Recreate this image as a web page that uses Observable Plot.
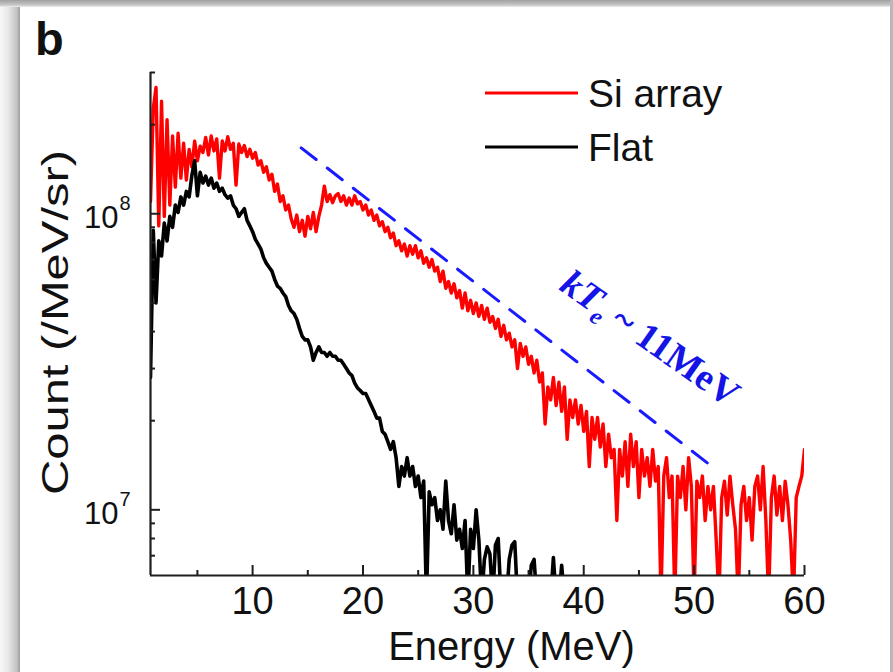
<!DOCTYPE html>
<html>
<head>
<meta charset="utf-8">
<script src="https://cdn.jsdelivr.net/npm/d3@7"></script>
<script src="https://cdn.jsdelivr.net/npm/@observablehq/plot@0.6"></script>
<style>
  body { margin: 0; background: #fff; }
  #wrap { position: relative; width: 893px; height: 672px; overflow: hidden; background: #fff; }
  #chart svg { display: block; }
  .shade { position: absolute; pointer-events: none; }
  #overlay { position: absolute; left: 0; top: 0; pointer-events: none; }
</style>
</head>
<body>
<div id="wrap">
  <div id="chart"></div>
  <svg id="overlay" width="893" height="672"></svg>
  <div class="shade" style="left:0;top:0;width:20px;height:672px;background:linear-gradient(to right,#f8f8f8,#e8e8e8 40%,#c2c2c2 85%,#9c9c9c);"></div>
  <div class="shade" style="left:0;top:0;width:893px;height:7px;background:linear-gradient(to bottom,#a0a0a0,#c6c6c6 70%,#ececec);"></div>
  <div class="shade" style="right:0;top:0;width:3px;height:672px;background:#b8b8b8;"></div>
</div>
<script>
// ---------------- data ----------------
const panelTag = "b";
const seriesNames = ["Si array", "Flat"];
const seriesColors = ["#ff0000", "#000000"];

// energy bins (MeV)
const energy = [
  0.75,
  1, 1.25, 1.5, 1.75,
  2, 2.25, 2.5, 2.75,
  3, 3.25, 3.5, 3.75,
  4, 4.25, 4.5, 4.75,
  5, 5.25, 5.5, 5.75,
  6, 6.25, 6.5, 6.75,
  7, 7.25, 7.5, 7.75,
  8, 8.25, 8.5, 8.75,
  9, 9.25, 9.5, 9.75,
  10, 10.25, 10.5, 10.75,
  11, 11.25, 11.5, 11.75,
  12, 12.25, 12.5, 12.75,
  13, 13.25, 13.5, 13.75,
  14, 14.25, 14.5, 14.75,
  15, 15.25, 15.5, 15.75,
  16, 16.25, 16.5, 16.75,
  17, 17.25, 17.5, 17.75,
  18, 18.25, 18.5, 18.75,
  19, 19.25, 19.5, 19.75,
  20, 20.25, 20.5, 20.75,
  21, 21.25, 21.5, 21.75,
  22, 22.25, 22.5, 22.75,
  23, 23.25, 23.5, 23.75,
  24, 24.25, 24.5, 24.75,
  25, 25.25, 25.5, 25.75,
  26, 26.25, 26.5, 26.75,
  27, 27.25, 27.5, 27.75,
  28, 28.25, 28.5, 28.75,
  29, 29.25, 29.5, 29.75,
  30, 30.25, 30.5, 30.75,
  31, 31.25, 31.5, 31.75,
  32, 32.25, 32.5, 32.75,
  33, 33.25, 33.5, 33.75,
  34, 34.25, 34.5, 34.75,
  35, 35.25, 35.5, 35.75,
  36, 36.25, 36.5, 36.75,
  37, 37.25, 37.5, 37.75,
  38, 38.25, 38.5, 38.75,
  39, 39.25, 39.5, 39.75,
  40, 40.25, 40.5, 40.75,
  41, 41.25, 41.5, 41.75,
  42, 42.25, 42.5, 42.75,
  43, 43.25, 43.5, 43.75,
  44, 44.25, 44.5, 44.75,
  45, 45.25, 45.5, 45.75,
  46, 46.25, 46.5, 46.75,
  47, 47.25, 47.5, 47.75,
  48, 48.25, 48.5, 48.75,
  49, 49.25, 49.5, 49.75,
  50, 50.25, 50.5, 50.75,
  51, 51.25, 51.5, 51.75,
  52, 52.25, 52.5, 52.75,
  53, 53.25, 53.5, 53.75,
  54, 54.25, 54.5, 54.75,
  55, 55.25, 55.5, 55.75,
  56, 56.25, 56.5, 56.75,
  57, 57.25, 57.5, 57.75,
  58, 58.25, 58.5, 58.75,
  59, 59.25, 59.5, 59.75,
  60
];

// Si array counts, in units of 10^6 /MeV/sr
const siArray = [
  110,
  227, 267, 91, 240,
  98, 208, 107, 183,
  123, 187, 132, 173,
  130, 165, 144, 176,
  151, 169, 161, 181,
  158, 183, 163, 179,
  132, 176, 163, 182,
  165, 173, 125, 172,
  161, 170, 156, 165,
  154, 161, 146, 151,
  138, 144, 130, 136,
  119, 126, 110, 115,
  103, 107, 96, 90,
  99, 87, 95, 84,
  98, 89, 101, 87,
  98, 107, 124, 110,
  116, 109, 115, 117,
  110, 115, 107, 113,
  107, 115, 108, 110,
  103, 107, 99, 103,
  95, 99, 91, 94,
  87, 90, 83, 86,
  78, 81, 75, 79,
  72, 78, 73, 78,
  71, 75, 68, 71,
  66, 70, 64, 66,
  59, 64, 56, 59,
  54, 58, 52, 55,
  48, 54, 47, 51,
  46, 50, 45, 49,
  44, 48, 43, 45,
  41, 44, 38.5, 42,
  37.5, 39.5, 35.5, 37.5,
  30, 36.5, 33, 35.5,
  31, 33, 29, 32,
  27, 29, 19.5, 26,
  23.5, 28, 22.5, 27,
  21.5, 26, 17.3, 23.5,
  20.5, 23.5, 19.5, 22.5,
  18.4, 21.5, 14, 20.5,
  17.3, 20.5, 16.3, 19.5,
  14, 18, 15, 16,
  9.2, 16, 13, 17,
  12, 18, 14, 17,
  11, 16, 13, 15,
  12, 16, 12.5, 14,
  5, 13, 15, 11,
  13, 5, 13, 11,
  14, 10, 15, 12,
  5, 12.5, 11, 13,
  9.2, 12, 10, 12,
  7.9, 5, 11, 12.5,
  9.6, 13, 10.4, 8.6,
  5, 10.4, 12, 9.2,
  11, 7.9, 12, 13,
  10, 14, 9.2, 5,
  11, 13, 9.6, 12,
  9.2, 12.5, 10.4, 7.9,
  5, 11, 12, 13,
  16
];

// Flat target counts, in units of 10^6 /MeV/sr (same bins, up to 38.25 MeV)
const flat = [
  28,
  88, 50, 81, 72,
  93, 81, 98, 90,
  107, 101, 114, 107,
  119, 114, 135, 151,
  115, 138, 127, 134,
  125, 132, 122, 127,
  119, 122, 116, 113,
  115, 107, 104, 98,
  101, 104, 95, 91,
  87, 82, 79, 76,
  71, 68, 66, 64,
  60, 57, 56, 54,
  52.5, 49, 47, 46,
  44, 41, 38.5, 37.5,
  37.5, 35.5, 32, 34,
  35.5, 34, 34, 33,
  34, 33, 33, 32,
  32, 31, 30, 29,
  28.4, 26.8, 25.8, 25.3,
  24.7, 24.7, 23.6, 22.5,
  21.5, 20.4, 20.4, 18.4,
  18, 17, 16, 17,
  15, 12, 14, 13,
  15, 13, 14, 12,
  13, 11, 12.5, 5,
  11.5, 10.4, 11, 9.2,
  10, 8.6, 12.5, 9.2,
  8.3, 10.4, 7.9, 8.6,
  7.4, 9.2, 5, 8.6,
  7.4, 10, 7.9, 5,
  6.8, 7.5, 7.1, 5,
  7.6, 8.0, 5, 5,
  5, 6.8, 7.6, 7.8,
  5, 5, 5, 5,
  5, 6.5, 6.8, 5,
  5, 5, 5, 5,
  5, 6.9, 5, 5,
  6.5, 5
];

// dashed exponential guide (end points) and its label
const fitEnergy = [14.4, 51.3];
const fitCount = [1.67e8, 1.43e7];
const fitLabel = ["kT", "e", " ~ 11MeV"];

// axes
const xLabel = "Energy (MeV)";
const yLabel = "Count (/MeV/sr)";
const xDomain = [0.75, 60];
const yDomain = [6e6, 3e8];
const xMajor = [10, 20, 30, 40, 50, 60];
const xMinor = [5, 15, 25, 35, 45, 55];
const yMajor = [1e7, 1e8];
const yMinor = [7e6, 8e6, 9e6, 2e7, 3e7, 4e7, 5e7, 6e7, 7e7, 8e7, 9e7, 2e8, 3e8];

// ---------------- chart ----------------
const W = 893, H = 672, ML = 150, MR = 89, MT = 72, MB = 97;
const FW = W - ML - MR, FH = H - MT - MB;
const axisColor = "#1e1e1e";
const textColor = "#111";
const FONT = "'Liberation Sans', Arial, sans-serif";

const siRows = siArray.map((c, i) => ({energy: energy[i], count: c * 1e6}));
const flatRows = flat.map((c, i) => ({energy: energy[i], count: c * 1e6}));
const fitRows = fitEnergy.map((e, i) => ({energy: e, count: fitCount[i]}));

const chart = Plot.plot({
  width: W, height: H,
  marginLeft: ML, marginRight: MR, marginTop: MT, marginBottom: MB,
  style: {background: "transparent", fontFamily: FONT, color: textColor, overflow: "visible"},
  x: {domain: xDomain, axis: null},
  y: {type: "log", domain: yDomain, axis: null},
  marks: [
    Plot.line(siRows, {x: "energy", y: "count", stroke: seriesColors[0], strokeWidth: 3.4, clip: true}),
    Plot.line(flatRows, {x: "energy", y: "count", stroke: seriesColors[1], strokeWidth: 3.6, clip: true}),
    Plot.line(fitRows, {x: "energy", y: "count", stroke: "#1a1aff", strokeWidth: 3, strokeDasharray: "19,14"}),
    Plot.ruleX([xDomain[0]], {stroke: axisColor, strokeWidth: 2.2}),
    Plot.ruleY([yDomain[0]], {stroke: axisColor, strokeWidth: 2.2}),
    Plot.ruleX(xMajor, {stroke: axisColor, strokeWidth: 2, insetTop: FH - 10}),
    Plot.ruleX(xMinor, {stroke: axisColor, strokeWidth: 2, insetTop: FH - 5}),
    Plot.ruleY(yMajor, {stroke: axisColor, strokeWidth: 2, insetRight: FW - 10}),
    Plot.ruleY(yMinor, {stroke: axisColor, strokeWidth: 2, insetRight: FW - 5}),
    Plot.text(xMajor, {x: d => d, text: d => String(d), frameAnchor: "bottom", lineAnchor: "top", dy: 12, fontSize: 38, fill: textColor}),
    Plot.text(yMajor, {y: d => d, text: () => "10", frameAnchor: "left", textAnchor: "end", dx: -32, dy: 4, fontSize: 31, fill: textColor}),
    Plot.text(yMajor, {y: d => d, text: d => String(Math.round(Math.log10(d))), frameAnchor: "left", textAnchor: "start", dx: -31, dy: -10, fontSize: 20, fill: textColor}),
    Plot.text([xLabel], {text: d => d, frameAnchor: "bottom", dx: 34, dy: 84, fontSize: 40, fill: textColor}),
    Plot.text([yLabel], {text: d => d, frameAnchor: "left", textAnchor: "start", rotate: -90, dx: -94, dy: 171, fontSize: 37, fill: textColor})
  ]
});
document.getElementById("chart").appendChild(chart);

// stretch the rotated y label to the reference length
for (const t of chart.querySelectorAll("text")) {
  if (t.textContent === yLabel) {
    t.setAttribute("textLength", 345);
    t.setAttribute("lengthAdjust", "spacingAndGlyphs");
  }
}

// ---------------- overlay: panel tag, legend, annotation ----------------
const ov = d3.select("#overlay").attr("font-family", FONT);
ov.append("text").attr("x", 35).attr("y", 55).attr("font-size", 47).attr("font-weight", "bold").attr("fill", textColor).text(panelTag);

const legendY = [93, 147];
seriesNames.forEach((name, i) => {
  ov.append("line").attr("x1", 485).attr("x2", 578).attr("y1", legendY[i]).attr("y2", legendY[i])
    .attr("stroke", seriesColors[i]).attr("stroke-width", 3);
  ov.append("text").attr("x", 588).attr("y", legendY[i] + 14).attr("font-size", 39).attr("fill", textColor).text(name);
});

const ann = ov.append("text")
  .attr("transform", "translate(558,289) rotate(35)")
  .attr("font-family", "'Liberation Serif', 'Times New Roman', serif")
  .attr("font-weight", "bold").attr("font-size", 38).attr("fill", "#1414e6");
ann.append("tspan").attr("font-style", "italic").text(fitLabel[0]);
ann.append("tspan").attr("font-style", "italic").attr("font-size", 24).attr("dy", 8).text(fitLabel[1]);
ann.append("tspan").attr("dy", -8).text(fitLabel[2]);
</script>
</body>
</html>
